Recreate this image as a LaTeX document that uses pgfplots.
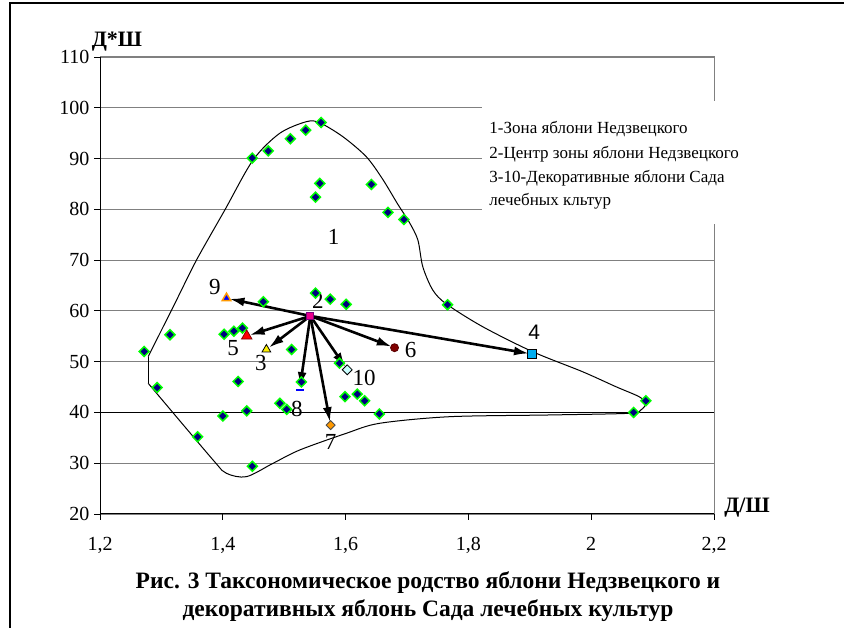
\documentclass[border=0pt]{standalone}
\usepackage{pgfplots}
\pgfplotsset{compat=1.18}
\usepackage{fontspec}
\setmainfont{Liberation Serif}
\newfontfamily\arialfont{Liberation Sans}
\usetikzlibrary{arrows.meta}

\definecolor{dotgreen}{RGB}{0,255,0}
\definecolor{dotnavy}{RGB}{0,0,128}
\definecolor{orng}{RGB}{255,153,0}
\definecolor{lcyan}{RGB}{204,255,255}
\definecolor{dred}{RGB}{128,0,0}

\begin{document}
\begin{tikzpicture}[x=1bp,y=1bp]
\useasboundingbox (0,0) rectangle (844,628);
\draw[line width=1.5bp] (10,-5) -- (10,625) -- (850,625);
\begin{axis}[
  at={(100bp,114bp)}, anchor=south west,
  scale only axis, width=614bp, height=457bp,
  xmin=1.2, xmax=2.2, ymin=20, ymax=110,
  axis x line*=bottom, axis y line*=left,
  axis line style={black, line width=1bp, -},
  xtick={1.2,1.4,1.6,1.8,2,2.2},
  xticklabels={{1,2},{1,4},{1,6},{1,8},{2},{2,2}},
  ytick={20,30,...,110},
  tick align=outside, major tick length=6bp,
  tick style={black, line width=0.8bp},
  ymajorgrids, grid style={gray, line width=0.8bp},
  ticklabel style={font=\fontsize{20bp}{22bp}\selectfont},
  /pgf/number format/assume math mode=true,
  xticklabel style={yshift=-14bp},
  yticklabel style={xshift=-1bp},
  clip=false,
]
% plot area border
\draw[gray, line width=1bp] (rel axis cs:0,1) -- (rel axis cs:1,1) -- (rel axis cs:1,0);
\addplot[black, line width=0.8bp] coordinates {(1.2,40) (2.2,40)};

% zone of Malus niedzwetzkyana
\addplot[black, line width=1bp, smooth, tension=0.5] coordinates {
  (1.2785,50.98) (1.3247,62.14) (1.3572,70.02) (1.4033,79.87) (1.4493,89.71)
  (1.4927,94.97) (1.5361,97.26) (1.5577,97.06) (1.5956,94.30) (1.6337,90.36)
  (1.66,86.0) (1.685,81.0) (1.703,77.6) (1.7176,74.0) (1.7257,68.7)
  (1.742,64.1) (1.7642,61.35) (1.8233,56.88) (1.9046,51.96) (1.9859,48.02)
  (2.0402,45.07) (2.0780,43.10) (2.0889,41.80) (2.0808,40.48) (2.0618,39.83)
  (1.9317,39.50) (1.7691,39.16) (1.6553,37.86) (1.6011,35.89) (1.5252,32.60)
  (1.4818,29.98) (1.4385,27.35) (1.4060,28.01) (1.3842,30.63) (1.2785,45.74)};
\addplot[black, line width=1bp] coordinates {(1.2785,45.74) (1.2785,50.98)};

% green points
\addplot[only marks, mark=square*, mark size=3.5bp,
  mark options={rotate=45, fill=dotnavy, draw=dotgreen, line width=1.5bp}] coordinates {
  (1.272,52.0) (1.314,55.3) (1.293,44.9) (1.359,35.2) (1.448,29.4)
  (1.400,39.3) (1.439,40.3) (1.425,46.1) (1.493,41.8) (1.504,40.6)
  (1.512,52.4) (1.402,55.4) (1.418,56.0) (1.432,56.6) (1.466,61.8)
  (1.551,63.5) (1.575,62.3) (1.601,61.3) (1.528,46.0) (1.590,49.7)
  (1.599,43.1) (1.619,43.6) (1.631,42.3) (1.655,39.7) (1.766,61.2)
  (2.089,42.3) (2.069,40.0) (1.448,90.1) (1.474,91.5) (1.510,93.9)
  (1.535,95.6) (1.560,97.1) (1.558,85.1) (1.551,82.4) (1.642,84.9)
  (1.669,79.4) (1.695,78.0)};

% arrows from the centre
\pgfplotsset{arr/.style={black, line width=2.6bp, shorten >=3bp,
  -{Latex[length=15bp,width=9bp]}}}
\addplot[arr] coordinates {(1.5426,59.0) (1.471,52.4)};
\addplot[arr] coordinates {(1.5426,59.0) (1.9035,51.5)};
\addplot[arr] coordinates {(1.5426,59.0) (1.439,55.05)};
\addplot[arr] coordinates {(1.5426,59.0) (1.6797,52.75)};
\addplot[arr] coordinates {(1.5426,59.0) (1.5756,37.5)};
\addplot[arr] coordinates {(1.5426,59.0) (1.525,44.4)};
\addplot[arr] coordinates {(1.5426,59.0) (1.406,62.5)};
\addplot[arr] coordinates {(1.5426,59.0) (1.6026,48.4)};

% special points
\addplot[only marks, mark=square*, mark size=3.5bp, mark options={fill=magenta, draw=violet, line width=0.8bp}] coordinates {(1.5426,59.0)};
\addplot[only marks, mark=triangle*, mark size=5bp, mark options={fill=yellow, draw=black, line width=0.8bp}] coordinates {(1.471,52.4)};
\addplot[only marks, mark=square*, mark size=4.5bp, mark options={fill=cyan, draw=black, line width=0.8bp}] coordinates {(1.9035,51.5)};
\addplot[only marks, mark=triangle*, mark size=6bp, mark options={fill=red, draw=dred, line width=0.8bp}] coordinates {(1.439,55.05)};
\addplot[only marks, mark=*, mark size=4bp, mark options={fill=dred, draw=dred!70!black, line width=0.8bp}] coordinates {(1.6797,52.75)};
\addplot[only marks, mark=square*, mark size=3.2bp, mark options={rotate=45, fill=orng, draw=black!70, line width=0.8bp}] coordinates {(1.5756,37.5)};
\addplot[only marks, mark=-, mark size=4bp, mark options={draw=blue, line width=2bp}] coordinates {(1.525,44.4)};
\addplot[only marks, mark=triangle*, mark size=5bp, mark options={fill=blue, draw=orng, line width=1.5bp}] coordinates {(1.406,62.5)};
\addplot[only marks, mark=square*, mark size=3.5bp, mark options={rotate=45, fill=lcyan, draw=black, line width=0.8bp}] coordinates {(1.6026,48.4)};

% point labels
\begin{scope}[every node/.style={font=\fontsize{23bp}{25bp}\selectfont, inner sep=0pt}]
\node at (axis cs:1.5805,74.55) {1};
\node at (axis cs:1.555,62.0) {2};
\node at (axis cs:1.462,49.7) {3};
\node[font=\arialfont\fontsize{21bp}{23bp}\selectfont] at (axis cs:1.907,55.8) {4};
\node at (axis cs:1.4168,52.6) {5};
\node at (axis cs:1.7057,52.3) {6};
\node at (axis cs:1.5756,34.2) {7};
\node at (axis cs:1.5208,40.6) {8};
\node at (axis cs:1.387,64.8) {9};
\node at (axis cs:1.630,46.8) {10};
\end{scope}

% text box
\fill[white] (axis cs:1.8228,77.1) rectangle (axis cs:2.225,101.3);
\begin{scope}[every node/.style={font=\fontsize{17bp}{19bp}\selectfont, anchor=west, inner sep=0pt}]
\node at (axis cs:1.834,95.82) {1-Зона яблони Недзвецкого};
\node at (axis cs:1.834,90.89) {2-Центр зоны яблони Недзвецкого};
\node at (axis cs:1.834,86.17) {3-10-Декоративные яблони Сада};
\node at (axis cs:1.834,81.64) {лечебных кльтур};
\end{scope}
\end{axis}

% axis titles and caption
\node[font=\bfseries\fontsize{22bp}{24bp}\selectfont, inner sep=0pt] at (117,586) {Д*Ш};
\node[font=\bfseries\fontsize{22bp}{24bp}\selectfont, inner sep=0pt] at (747,120) {Д/Ш};
\node[font=\bfseries\fontsize{23.5bp}{26bp}\selectfont, inner sep=0pt] at (428,45) {Рис. 3 Таксономическое родство яблони Недзвецкого и};
\node[font=\bfseries\fontsize{23.5bp}{26bp}\selectfont, inner sep=0pt] at (428,17) {декоративных яблонь Сада лечебных культур};
\end{tikzpicture}
\end{document}
